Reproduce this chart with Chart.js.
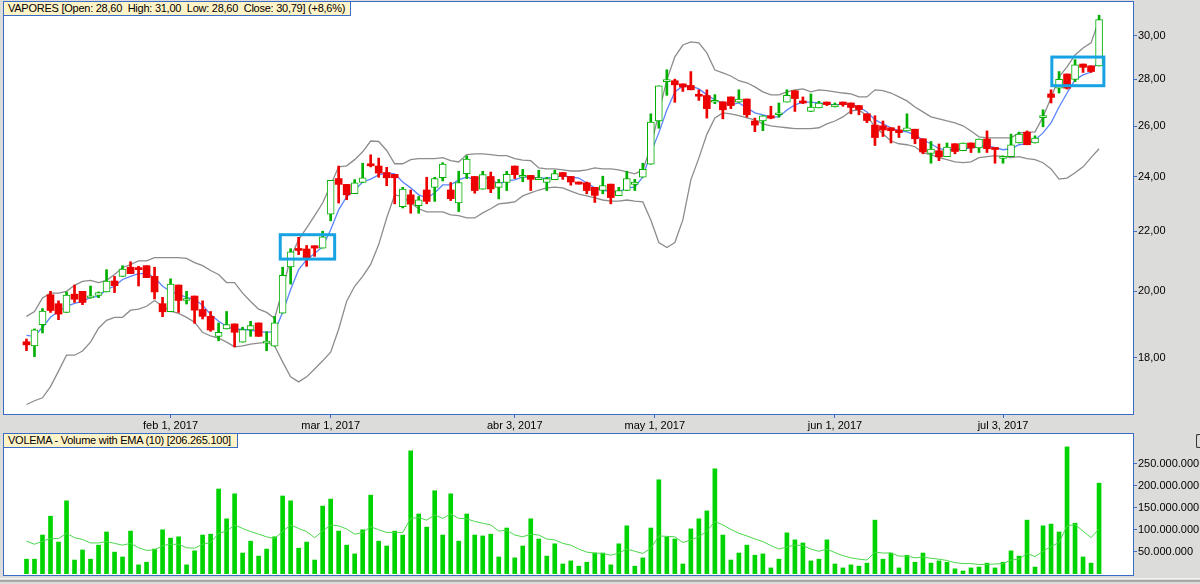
<!DOCTYPE html>
<html>
<head>
<meta charset="utf-8">
<script src="https://cdn.jsdelivr.net/npm/chart.js@4.4.1/dist/chart.umd.min.js"></script>
<style>
  html, body { margin: 0; padding: 0; background: #dcdcda; width: 1200px; height: 584px; overflow: hidden; }
  #wrap { position: relative; width: 1200px; height: 584px; font-family: "Liberation Sans", Arial, sans-serif; }
  #priceCanvas { position: absolute; left: 0; top: 0; }
  #volCanvas { position: absolute; left: 0; top: 430px; }
  .legend { position: absolute; box-sizing: border-box; background: #fff3c8; border: 1px solid #3a6cc6;
            font-size: 11px; line-height: 13px; letter-spacing: -0.25px; padding: 0 0 0 4px; white-space: pre; color: #000; }
  #priceLegend { left: 3px; top: 1px; width: 348px; height: 15px; }
  #volLegend { left: 3px; top: 433px; width: 235px; height: 15px; }
  .rule { position: absolute; left: 0; width: 1200px; }
  #btnStub { position: absolute; left: 1196px; top: 434px; width: 8px; height: 12px; border: 1px solid #333; border-right: none; border-radius: 2px; }
</style>
</head>
<body>
<div id="wrap">
  <canvas id="priceCanvas" width="1200" height="433"></canvas>
  <canvas id="volCanvas" width="1200" height="150"></canvas>
  <div class="legend" id="priceLegend">VAPORES [Open: 28,60  High: 31,00  Low: 28,60  Close: 30,79] (+8,6%)</div>
  <div class="legend" id="volLegend">VOLEMA - Volume with EMA (10) [206.265.100]</div>
  <div class="rule" style="top:578px;height:1px;background:#f4f4f4"></div>
  <div class="rule" style="top:580px;height:2px;background:#a8a8a8"></div>
  <div id="btnStub"></div>
</div>
<script>
// VAPORES daily candles (Jan 6 - Jul 19, 2017), Bollinger bands, EMA and volume.
// Values.

// --------------------- Data ---------------------
const opens = [18.46,18.34,18.97,19.89,19.61,19.34,19.91,20.00,19.79,19.87,
  19.98,20.33,20.48,20.78,20.72,20.83,20.48,19.61,19.36,20.20,
  19.71,19.85,19.43,19.22,18.62,18.84,18.99,18.45,18.81,19.02,
  18.42,18.33,19.32,20.79,21.40,21.39,21.50,21.42,22.61,23.92,
  23.70,23.35,23.77,24.48,24.40,24.15,24.08,22.88,23.31,22.91,
  23.49,23.59,23.95,23.49,23.01,24.11,24.00,23.52,24.00,23.59,
  23.77,24.40,23.97,24.04,23.88,23.77,23.88,24.15,24.00,23.79,
  23.76,23.59,23.47,23.71,23.28,23.47,23.70,23.97,24.47,26.21,
  27.90,27.94,27.80,27.73,27.33,27.29,27.00,27.02,27.23,27.00,
  27.14,26.21,26.21,26.43,26.47,27.01,27.50,27.01,26.61,26.76,
  27.01,26.80,27.01,26.97,26.86,26.51,26.04,26.01,25.93,25.84,
  25.80,25.87,25.48,24.89,25.00,24.77,25.28,25.00,25.31,25.11,
  25.47,25.11,24.70,24.77,25.31,25.75,25.31,26.35,27.36,27.61,
  28.24,28.00,28.69,28.61,28.60];

const highs = [18.54,18.84,19.46,20.00,19.70,19.98,20.20,20.00,20.17,19.98,
  20.70,20.48,20.83,20.96,20.81,20.83,20.78,19.81,20.40,20.20,
  20.00,19.85,19.70,19.37,19.02,19.37,18.99,18.89,19.07,19.02,
  18.76,19.22,20.78,21.40,21.79,21.51,21.50,22.00,23.85,24.40,
  23.70,23.88,24.51,24.84,24.71,24.35,24.08,23.59,23.49,23.25,
  23.97,23.97,24.53,23.77,24.20,24.80,24.00,24.20,24.17,23.89,
  24.20,24.40,24.27,24.04,24.24,23.97,24.24,24.15,24.00,23.79,
  23.79,23.59,24.01,23.71,23.59,24.20,23.89,24.51,26.51,27.71,
  28.43,28.01,27.80,28.35,27.54,27.54,27.33,27.02,27.23,27.54,
  27.14,26.33,26.43,26.83,26.97,27.54,27.50,27.23,27.36,27.04,
  27.01,26.97,27.01,26.97,26.86,26.51,26.43,26.21,25.93,26.00,
  26.51,25.87,25.48,25.37,25.27,25.31,25.28,25.31,25.31,25.47,
  25.80,25.11,24.80,25.67,25.75,25.80,25.60,26.68,27.54,28.35,
  28.24,28.89,28.69,28.61,31.00];

const lows = [18.20,18.03,18.72,19.34,19.12,19.34,19.65,19.58,19.78,19.80,
  19.98,19.96,20.48,20.57,20.17,20.44,19.76,19.21,19.36,19.34,
  19.60,19.01,19.14,18.77,18.49,18.84,18.31,18.45,18.62,18.62,
  18.20,18.33,19.32,20.23,21.20,20.81,21.14,21.42,22.37,23.01,
  23.13,23.35,23.77,24.37,23.97,23.65,22.98,22.83,22.64,22.64,
  22.98,23.07,23.83,23.10,22.70,23.92,23.37,23.52,23.39,23.16,
  23.47,23.92,23.80,23.47,23.88,23.47,23.88,23.89,23.67,23.71,
  23.35,23.03,23.35,22.98,23.28,23.47,23.47,23.97,24.47,25.91,
  27.30,27.00,27.47,27.54,27.08,26.33,26.94,26.30,26.73,27.00,
  26.37,25.77,25.81,26.30,26.37,27.01,26.61,26.94,26.61,26.76,
  26.86,26.80,26.83,26.51,26.47,26.14,25.21,25.57,25.31,25.53,
  25.80,25.28,24.88,24.51,24.61,24.77,24.88,25.00,24.93,24.93,
  24.93,24.51,24.51,24.77,25.31,25.24,25.31,25.97,26.97,27.40,
  27.57,27.90,28.31,28.31,28.60];

const closes = [18.37,18.81,19.38,19.40,19.29,19.88,19.75,19.65,19.82,19.96,
  20.33,20.18,20.72,20.57,20.70,20.44,19.98,19.36,20.23,19.71,
  19.76,19.41,19.22,18.81,18.74,18.97,18.74,18.82,18.94,18.62,
  18.48,19.02,20.51,21.29,21.34,21.07,21.42,21.81,23.85,23.70,
  23.31,23.76,23.95,24.41,24.13,23.95,23.95,23.52,22.97,23.13,
  23.07,23.92,24.48,23.17,23.77,24.67,23.47,24.07,23.53,23.77,
  24.08,24.07,24.04,23.89,23.94,23.92,24.11,24.00,23.79,23.71,
  23.47,23.29,23.66,23.21,23.47,23.92,23.79,24.27,26.16,27.71,
  27.94,27.76,27.66,27.54,27.26,26.73,27.04,26.68,26.86,27.14,
  26.47,26.04,26.43,26.33,26.54,27.30,27.16,26.97,26.80,26.97,
  26.90,26.90,26.90,26.78,26.69,26.23,25.53,25.84,25.81,25.73,
  25.93,25.48,24.95,25.07,24.76,25.15,24.97,25.31,25.11,25.47,
  25.08,25.05,24.73,25.24,25.67,25.24,25.51,26.40,27.21,28.00,
  27.61,28.65,28.54,28.35,30.79];

const upperBand = [19.22,19.37,19.79,19.94,19.94,20.00,20.19,20.32,20.35,20.28,
  20.35,20.54,20.77,20.87,20.99,20.99,21.10,21.10,21.10,21.10,
  21.07,20.93,20.83,20.67,20.54,20.28,20.28,19.94,19.68,19.44,
  19.34,19.16,20.06,21.10,21.71,22.12,22.55,23.01,23.68,24.37,
  24.41,24.65,24.96,25.39,25.37,25.01,24.49,24.49,24.65,24.69,
  24.69,24.69,24.73,24.61,24.56,24.85,24.88,24.88,24.85,24.81,
  24.81,24.69,24.63,24.61,24.33,24.29,24.29,24.25,24.21,24.21,
  24.25,24.33,24.29,24.29,24.25,24.18,24.10,24.25,25.16,26.55,
  27.98,29.02,29.57,29.72,29.67,29.20,28.42,28.29,28.15,27.94,
  27.85,27.67,27.45,27.32,27.32,27.45,27.54,27.58,27.45,27.54,
  27.50,27.45,27.40,27.36,27.23,27.23,27.54,27.50,27.40,27.23,
  27.06,26.80,26.59,26.38,26.30,26.21,26.13,26.01,25.80,25.56,
  25.52,25.52,25.52,25.52,25.72,25.74,25.76,26.38,27.19,28.11,
  28.56,29.11,29.43,29.67,30.77];

const lowerBand = [16.71,16.81,16.89,17.19,17.62,18.07,18.07,18.19,18.45,18.86,
  19.10,19.19,19.19,19.41,19.44,19.53,19.71,19.53,19.38,19.31,
  19.19,19.04,18.74,18.63,18.57,18.45,18.31,18.34,18.39,18.42,
  18.45,18.34,17.88,17.46,17.32,17.46,17.68,17.91,18.16,18.83,
  19.69,20.16,20.48,20.87,21.54,22.47,23.31,23.24,23.01,22.80,
  22.69,22.69,22.69,22.58,22.55,22.47,22.47,22.65,22.80,22.98,
  23.01,23.05,23.27,23.38,23.49,23.57,23.60,23.57,23.45,23.34,
  23.27,23.20,23.12,23.08,23.08,23.12,23.08,23.05,22.40,21.61,
  21.44,21.61,22.40,23.87,24.71,25.66,26.34,26.55,26.51,26.43,
  26.34,26.26,26.09,26.01,25.97,25.93,25.89,25.89,25.89,25.93,
  26.09,26.21,26.38,26.63,26.67,26.43,25.97,25.68,25.39,25.28,
  25.24,25.16,24.92,24.85,24.73,24.65,24.56,24.53,24.56,24.73,
  24.77,24.81,24.77,24.73,24.77,24.69,24.65,24.53,24.29,23.90,
  23.94,24.14,24.37,24.73,25.08];

const emaLine = [18.65,18.62,18.89,19.19,19.37,19.53,19.62,19.68,19.81,19.84,
  20.06,20.16,20.38,20.48,20.57,20.57,20.44,20.16,20.00,19.90,
  19.81,19.75,19.56,19.28,19.07,18.92,18.83,18.83,18.80,18.77,
  18.74,18.77,19.34,20.06,20.70,21.03,21.24,21.47,22.05,22.76,
  23.24,23.49,23.79,23.90,24.06,24.14,24.10,23.79,23.57,23.31,
  23.20,23.38,23.68,23.68,23.87,23.98,23.87,23.98,23.87,23.72,
  23.83,23.87,23.98,23.98,23.94,23.94,23.98,24.02,23.98,23.94,
  23.75,23.57,23.49,23.42,23.42,23.57,23.60,23.98,24.92,25.72,
  26.67,27.45,27.71,27.71,27.58,27.32,27.10,26.97,26.89,26.97,
  26.76,26.55,26.47,26.38,26.38,26.67,26.89,27.01,27.01,26.97,
  26.93,26.89,26.93,26.89,26.80,26.59,26.26,26.09,25.93,25.80,
  25.76,25.64,25.43,25.28,25.08,25.04,25.04,25.08,25.12,25.16,
  25.20,25.12,25.04,25.08,25.24,25.28,25.43,25.72,26.13,26.80,
  27.40,27.98,28.20,28.33,28.88];

// volume in millions of shares
const volumeM = [33,33,88,131,72,166,31,54,33,65,
  95,49,38,97,20,26,56,100,81,84,
  20,52,88,90,193,125,182,47,74,40,
  56,84,177,166,58,72,31,154,170,97,
  65,45,100,179,74,63,97,88,280,136,
  106,189,88,182,74,136,88,86,90,38,
  104,36,63,125,79,40,68,22,29,17,
  26,47,47,20,68,109,17,36,104,214,
  84,79,22,102,125,143,239,88,31,47,
  65,42,45,13,33,93,77,70,29,33,
  77,22,13,20,17,24,122,33,47,13,
  42,26,47,24,29,26,11,6,13,15,
  24,13,26,52,40,122,15,109,113,95,
  289,115,38,24,206.2651];

const volumeEma = [74,67,74,80,80,92,82,78,70,70,
  73,69,65,69,59,53,54,64,67,67,
  59,58,67,71,92,97,111,103,96,90,
  84,80,96,111,103,96,82,97,111,109,
  102,90,94,107,100,94,94,94,126,128,
  122,134,126,136,126,125,119,115,111,97,
  99,88,84,90,88,79,77,69,65,56,
  49,47,46,42,47,56,51,46,58,86,
  85,84,71,77,84,97,119,111,101,92,
  86,79,73,64,56,61,65,64,56,51,
  56,48,41,36,33,31,49,47,47,40,
  40,36,38,35,33,30,25,23,23,21,
  21,22,23,31,33,46,39,51,62,71,
  109,112,97,82,102];

// date axis: bar index of each labelled date
const tickIdx = [18, 38, 61, 78.5, 101, 122];
const tickLabels = ["feb 1, 2017", "mar 1, 2017", "abr 3, 2017", "may 1, 2017", "jun 1, 2017", "jul 3, 2017"];
const priceTicks = [18, 20, 22, 24, 26, 28, 30];
const volTicks = [50, 100, 150, 200, 250];

// highlighted zones (bar index range, price range)
const boxFrom = [31.7, 128.1];
const boxTo = [38.5, 134.6];
const boxLow = [21.05, 27.72];
const boxHigh = [21.88, 29.01];

// --------------------- Style ---------------------
const BLUE_FRAME = '#3a6cc6';
const RED = '#ec0000';
const GREEN = '#00b000';
const X_MIN = -2.81, X_MAX = 138.24;
const Y_MIN = 16.46, Y_MAX = 31.66;
const VOL_MIN = -3.1, VOL_MAX = 318.4;

Chart.defaults.font.family = '"Liberation Sans", Arial, sans-serif';
Chart.defaults.font.size = 11;
Chart.defaults.color = '#000';

const fmtPrice = (v) => v.toFixed(2).replace('.', ',');
const fmtVol = (v) => String(Math.round(v * 1e6)).replace(/\B(?=(\d{3})+(?!\d))/g, '.');

const idx = closes.map((_, i) => i);
const up = idx.map(i => closes[i] >= opens[i]);

// --------------------- Plugins ---------------------
const framePlugin = {
  id: 'frame',
  beforeDraw(chart) {
    const { ctx, chartArea: a } = chart;
    ctx.save();
    ctx.fillStyle = '#ffffff';
    ctx.fillRect(a.left, a.top, a.right - a.left, a.bottom - a.top);
    ctx.restore();
  },
  afterDraw(chart) {
    const { ctx, chartArea: a } = chart;
    ctx.save();
    ctx.strokeStyle = BLUE_FRAME;
    ctx.lineWidth = 1;
    ctx.strokeRect(a.left - 0.5, a.top - 0.5, a.right - a.left + 1, a.bottom - a.top + 1);
    ctx.restore();
  }
};

const highlightPlugin = {
  id: 'highlights',
  afterDatasetsDraw(chart) {
    const { ctx, scales: { x, y } } = chart;
    ctx.save();
    ctx.strokeStyle = '#16a2e3';
    ctx.lineWidth = 3;
    boxFrom.forEach((f, k) => {
      const x0 = x.getPixelForValue(f), x1 = x.getPixelForValue(boxTo[k]);
      const y0 = y.getPixelForValue(boxHigh[k]), y1 = y.getPixelForValue(boxLow[k]);
      ctx.strokeRect(x0, y0, x1 - x0, y1 - y0);
    });
    ctx.restore();
  }
};

// --------------------- Price chart ---------------------
const lineDs = (label, values, color, width) => ({
  type: 'line', label, order: 2,
  data: values.map((v, i) => ({ x: i, y: v })),
  borderColor: color, borderWidth: width, pointRadius: 0, tension: 0, fill: false
});

new Chart(document.getElementById('priceCanvas'), {
  type: 'bar',
  data: {
    datasets: [
      {
        label: 'body', order: 0, grouped: false, barThickness: 7, minBarLength: 2,
        data: idx.map(i => ({ x: i, y: [opens[i], closes[i]] })),
        backgroundColor: idx.map(i => up[i] ? '#ffffff' : RED),
        borderColor: idx.map(i => up[i] ? GREEN : RED),
        borderWidth: idx.map(i => up[i] ? 1 : 0),
        borderSkipped: false
      },
      {
        label: 'wick', order: 1, grouped: false, barThickness: 2,
        data: idx.map(i => ({ x: i, y: [lows[i], highs[i]] })),
        backgroundColor: idx.map(i => up[i] ? GREEN : RED),
        borderWidth: 0
      },
      lineDs('Upper band', upperBand, '#8c8c8c', 1.3),
      lineDs('Lower band', lowerBand, '#8c8c8c', 1.3),
      lineDs('EMA', emaLine, '#5a84ff', 1.3)
    ]
  },
  options: {
    responsive: false,
    animation: false,
    events: [],
    layout: { padding: { left: 4, top: 2, right: 0, bottom: 0 } },
    plugins: { legend: { display: false }, tooltip: { enabled: false } },
    scales: {
      x: {
        type: 'linear', min: X_MIN, max: X_MAX, offset: false,
        afterBuildTicks: s => { s.ticks = tickIdx.map(v => ({ value: v })); },
        afterFit: s => { s.height = 19; s.paddingLeft = 0; s.paddingRight = 0; },
        ticks: { callback: (v, i) => tickLabels[i], autoSkip: false, maxRotation: 0, padding: 1 },
        grid: { offset: false, drawOnChartArea: false, tickLength: 4, color: BLUE_FRAME },
        border: { display: false }
      },
      y: {
        type: 'logarithmic', position: 'right', min: Y_MIN, max: Y_MAX, bounds: 'data', beginAtZero: false,
        afterBuildTicks: s => { s.ticks = priceTicks.map(v => ({ value: v })); },
        afterFit: s => { s.width = 67; s.paddingTop = 0; s.paddingBottom = 0; },
        ticks: { callback: v => fmtPrice(v), padding: 1, autoSkip: false },
        grid: { drawOnChartArea: false, tickLength: 4, color: BLUE_FRAME },
        border: { display: false }
      }
    }
  },
  plugins: [framePlugin, highlightPlugin]
});

// --------------------- Volume chart ---------------------
new Chart(document.getElementById('volCanvas'), {
  type: 'bar',
  data: {
    datasets: [
      {
        label: 'Volume', order: 1, grouped: false, barThickness: 4,
        data: idx.map(i => ({ x: i, y: volumeM[i] })),
        backgroundColor: '#00d400', borderWidth: 0
      },
      {
        type: 'line', label: 'EMA (10)', order: 0,
        data: volumeEma.map((v, i) => ({ x: i, y: v })),
        borderColor: '#4cd84c', borderWidth: 1, pointRadius: 0, tension: 0, fill: false
      }
    ]
  },
  options: {
    responsive: false,
    animation: false,
    events: [],
    layout: { padding: { left: 4, top: 4, right: 0, bottom: 5 } },
    plugins: { legend: { display: false }, tooltip: { enabled: false } },
    scales: {
      x: { type: 'linear', min: X_MIN, max: X_MAX, offset: false, display: false, grid: { offset: false } },
      y: {
        type: 'linear', position: 'right', min: VOL_MIN, max: VOL_MAX, beginAtZero: false,
        afterBuildTicks: s => { s.ticks = volTicks.map(v => ({ value: v })); },
        afterFit: s => { s.width = 67; s.paddingTop = 0; s.paddingBottom = 0; },
        ticks: { callback: v => fmtVol(v), padding: 1, autoSkip: false },
        grid: { drawOnChartArea: false, tickLength: 4, color: BLUE_FRAME },
        border: { display: false }
      }
    }
  },
  plugins: [framePlugin]
});
</script>
</body>
</html>
